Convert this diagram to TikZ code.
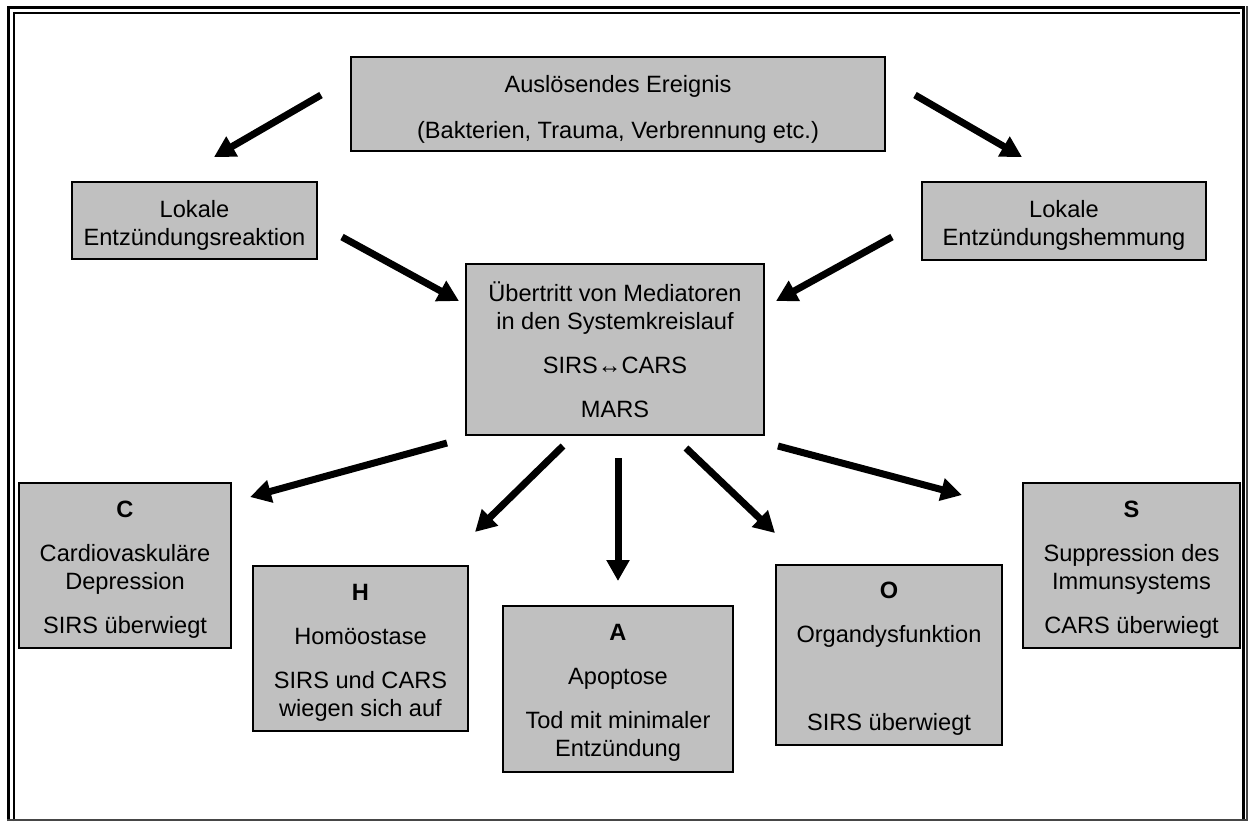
\documentclass[tikz,border=0pt]{standalone}
\usepackage{fontspec}
\setmainfont{Liberation Sans}
\usetikzlibrary{arrows.meta}
\definecolor{boxgray}{RGB}{192,192,192}
\definecolor{edgegray}{RGB}{70,70,70}
\newcommand{\lift}[1]{\rule{0pt}{#1}}
\begin{document}
\begin{tikzpicture}[x=0.5pt,y=-0.5pt,
  box/.style={draw=black, line width=1pt, fill=boxgray, align=center, inner sep=0pt,
    font=\fontsize{11.8pt}{14pt}\selectfont},
  arr/.style={line width=3.5pt, -{Triangle[width=11pt,length=10.5pt]}},
  frameout/.style={line width=1.5pt, draw=black},
  framein/.style={line width=1pt, draw=black},
]
\useasboundingbox (0,0) rectangle (1248,821);
\fill[white] (0,0) rectangle (1248,821);
% frame
\draw[frameout] (8.5,821) -- (8.5,7.5) -- (1243.5,7.5) -- (1243.5,821);
\draw[framein] (14,821) -- (14,13) -- (1240,13);
\draw[line width=1pt, draw=edgegray] (1247,6) -- (1247,821);
\draw[line width=1pt, draw=edgegray] (7,820) -- (1248,820);

% boxes
\node[box, minimum width=267pt, minimum height=47pt] (top) at (618,104)
  {\lift{14pt}Auslösendes Ereignis\\[9pt](Bakterien, Trauma, Verbrennung etc.)};
\node[box, minimum width=122.5pt, minimum height=38.5pt] (lre) at (194.5,220.5)
  {\lift{13pt}Lokale\\Entzündungsreaktion};
\node[box, minimum width=142pt, minimum height=39pt] (lhe) at (1064,221)
  {\lift{13pt}Lokale\\Entzündungshemmung};
\node[box, minimum width=149pt, minimum height=85.5pt] (mid) at (615,349.5)
  {Übertritt von Mediatoren\\in den Systemkreislauf\\[8pt]SIRS↔CARS\\[8pt]MARS};
\node[box, minimum width=106pt, minimum height=82.5pt] (c) at (125,565.5)
  {\lift{12pt}\textbf{C}\\[8pt]Cardiovaskuläre\\Depression\\[8pt]SIRS überwiegt};
\node[box, minimum width=107.5pt, minimum height=82.5pt] (h) at (360.5,648.5)
  {\lift{12pt}\textbf{H}\\[8pt]Homöostase\\[8pt]SIRS und CARS\\wiegen sich auf};
\node[box, minimum width=115pt, minimum height=83pt] (a) at (618,689)
  {\lift{12pt}\textbf{A}\\[8pt]Apoptose\\[8pt]Tod mit minimaler\\Entzündung};
\node[box, minimum width=113pt, minimum height=90pt] (o) at (889,655)
  {\lift{12pt}\textbf{O}\\[8pt]Organdysfunktion\\[30pt]SIRS überwiegt};
\node[box, minimum width=108.5pt, minimum height=82.5pt] (s) at (1131.5,565.5)
  {\lift{12pt}\textbf{S}\\[8pt]Suppression des\\Immunsystems\\[8pt]CARS überwiegt};

% arrow end points
\coordinate (a1s) at (321,95);  \coordinate (a1e) at (214,157);
\coordinate (a2s) at (915,95);  \coordinate (a2e) at (1022,157);
\coordinate (a3s) at (342,237); \coordinate (a3e) at (459,301);
\coordinate (a4s) at (892,237); \coordinate (a4e) at (776,301);
\coordinate (a5s) at (447,443); \coordinate (a5e) at (250,497);
\coordinate (a6s) at (563,446); \coordinate (a6e) at (475,532);
\coordinate (a7s) at (618,458); \coordinate (a7e) at (618,581);
\coordinate (a8s) at (686,448); \coordinate (a8e) at (775,533);
\coordinate (a9s) at (778,446); \coordinate (a9e) at (962,495);

\draw[arr] (a1s) -- (a1e);
\draw[arr] (a2s) -- (a2e);
\draw[arr] (a3s) -- (a3e);
\draw[arr] (a4s) -- (a4e);
\draw[arr] (a5s) -- (a5e);
\draw[arr] (a6s) -- (a6e);
\draw[arr] (a7s) -- (a7e);
\draw[arr] (a8s) -- (a8e);
\draw[arr] (a9s) -- (a9e);
\end{tikzpicture}
\end{document}
